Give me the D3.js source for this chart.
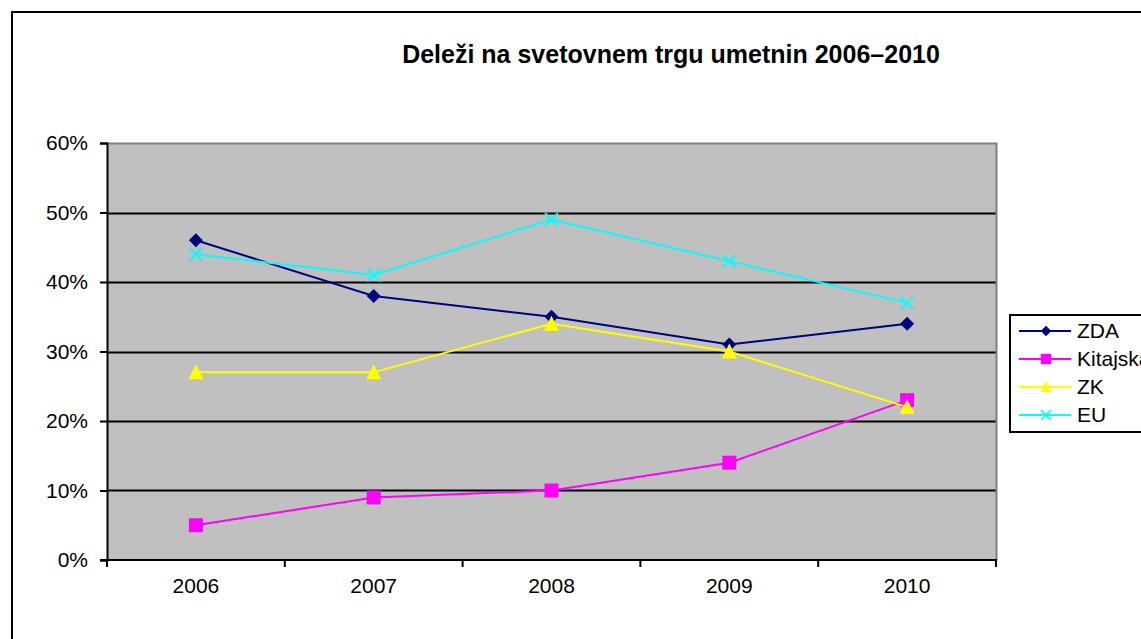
<!DOCTYPE html>
<html>
<head>
<meta charset="utf-8">
<script src="https://cdn.jsdelivr.net/npm/d3@7"></script>
<style>
  html, body { margin: 0; padding: 0; background: #fff; }
  svg { display: block; font-family: "Liberation Sans", Arial, sans-serif; }
</style>
</head>
<body>
<svg id="chart" width="1141" height="639"></svg>
<script>
(function () {
  'use strict';

  const years = ['2006', '2007', '2008', '2009', '2010'];
  const yTicks = [0, 0.1, 0.2, 0.3, 0.4, 0.5, 0.6];

  const zda = [0.46, 0.38, 0.35, 0.31, 0.34];
  const kitajska = [0.05, 0.09, 0.10, 0.14, 0.23];
  const zk = [0.27, 0.27, 0.34, 0.30, 0.22];
  const eu = [0.44, 0.41, 0.49, 0.43, 0.37];

  const series = [
    { name: 'ZDA', values: zda, color: '#000080', marker: 'diamond' },
    { name: 'Kitajska', values: kitajska, color: '#FF00FF', marker: 'square' },
    { name: 'ZK', values: zk, color: '#FFFF00', marker: 'triangle' },
    { name: 'EU', values: eu, color: '#00FFFF', marker: 'cross' }
  ];

  const FONT = '"Liberation Sans", Arial, sans-serif';
  const svg = d3.select('#chart');

  // outer chart border (runs off the right / bottom edge)
  svg.append('rect')
    .attr('x', 12).attr('y', 12)
    .attr('width', 1160).attr('height', 660)
    .attr('fill', '#fff').attr('stroke', '#000').attr('stroke-width', 2);

  const plot = { left: 107, top: 143, right: 996, bottom: 560 };

  const x = d3.scaleBand().domain(years).range([plot.left, plot.right]);
  const y = d3.scaleLinear().domain([0, 0.6]).range([plot.bottom, plot.top]);

  svg.append('text')
    .attr('x', 671).attr('y', 63)
    .attr('text-anchor', 'middle')
    .attr('font-size', 25).attr('font-weight', 'bold')
    .text('Deleži na svetovnem trgu umetnin 2006–2010');

  // plot background
  svg.append('rect')
    .attr('x', plot.left).attr('y', plot.top)
    .attr('width', plot.right - plot.left).attr('height', plot.bottom - plot.top)
    .attr('fill', '#C0C0C0');

  // gridlines
  svg.append('g').selectAll('line')
    .data(yTicks.filter(t => t > 0 && t < 0.6))
    .join('line')
    .attr('x1', plot.left).attr('x2', plot.right)
    .attr('y1', d => Math.round(y(d)) + 0.5).attr('y2', d => Math.round(y(d)) + 0.5)
    .attr('stroke', '#000').attr('stroke-width', 2);

  // grey top / right plot border
  svg.append('path')
    .attr('d', `M${plot.left},${plot.top + 0.5}H${plot.right + 0.5}V${plot.bottom}`)
    .attr('fill', 'none').attr('stroke', '#808080').attr('stroke-width', 2);

  // y axis
  const yAxis = d3.axisLeft(y).tickValues(yTicks).tickSize(7).tickPadding(12)
    .tickFormat(d3.format('.0%'));
  const gy = svg.append('g').attr('transform', `translate(${plot.left},0)`).call(yAxis);
  gy.attr('font-size', 21).attr('font-family', FONT);
  gy.select('.domain').attr('stroke-width', 2);
  gy.selectAll('.tick line').attr('stroke-width', 2);
  gy.selectAll('.tick text').attr('fill', '#000');

  // x axis: ticks on band boundaries
  const gx = svg.append('g').attr('transform', `translate(0,${plot.bottom})`);
  gx.append('line')
    .attr('x1', plot.left - 7).attr('x2', plot.right + 1)
    .attr('stroke', '#000').attr('stroke-width', 2);
  const bounds = years.map(d => x(d)).concat([x.range()[1]]);
  gx.selectAll('line.tk').data(bounds).join('line').attr('class', 'tk')
    .attr('x1', d => d).attr('x2', d => d).attr('y1', 0).attr('y2', 7)
    .attr('stroke', '#000').attr('stroke-width', 2);
  gx.selectAll('text').data(years).join('text')
    .attr('x', d => x(d) + x.bandwidth() / 2).attr('y', 33)
    .attr('text-anchor', 'middle').attr('font-size', 21)
    .text(d => d);

  const cx = (d, i) => x(years[i]) + x.bandwidth() / 2;

  function drawMarker(g, type, color) {
    if (type === 'diamond') {
      g.append('path').attr('d', 'M0,-7L7,0L0,7L-7,0Z').attr('fill', color);
    } else if (type === 'square') {
      g.append('rect').attr('x', -7).attr('y', -7).attr('width', 14).attr('height', 14).attr('fill', color);
    } else if (type === 'triangle') {
      g.append('path').attr('d', 'M0,-8L7.5,7L-7.5,7Z').attr('fill', color);
    } else {
      g.append('path').attr('d', 'M-6.5,-6.5L6.5,6.5M-6.5,6.5L6.5,-6.5')
        .attr('stroke', color).attr('stroke-width', 2);
    }
  }

  const line = d3.line().x(cx).y(d => y(d));

  series.forEach(s => {
    const g = svg.append('g');
    g.append('path').datum(s.values)
      .attr('d', line).attr('fill', 'none')
      .attr('stroke', s.color).attr('stroke-width', 2);
    s.values.forEach((v, i) => {
      const m = g.append('g').attr('transform', `translate(${cx(v, i)},${y(v)})`);
      drawMarker(m, s.marker, s.color);
    });
  });

  // legend
  const lg = svg.append('g');
  lg.append('rect')
    .attr('x', 1010).attr('y', 315).attr('width', 160).attr('height', 117)
    .attr('fill', '#fff').attr('stroke', '#000').attr('stroke-width', 2);
  series.forEach((s, i) => {
    const ly = 331 + i * 28;
    const row = lg.append('g');
    row.append('line').attr('x1', 1019).attr('x2', 1071).attr('y1', ly).attr('y2', ly)
      .attr('stroke', s.color).attr('stroke-width', 2);
    const m = row.append('g').attr('transform', `translate(1046,${ly}) scale(0.75)`);
    drawMarker(m, s.marker, s.color);
    row.append('text').attr('x', 1077).attr('y', ly + 7).attr('font-size', 21).text(s.name);
  });
})();
</script>
</body>
</html>
